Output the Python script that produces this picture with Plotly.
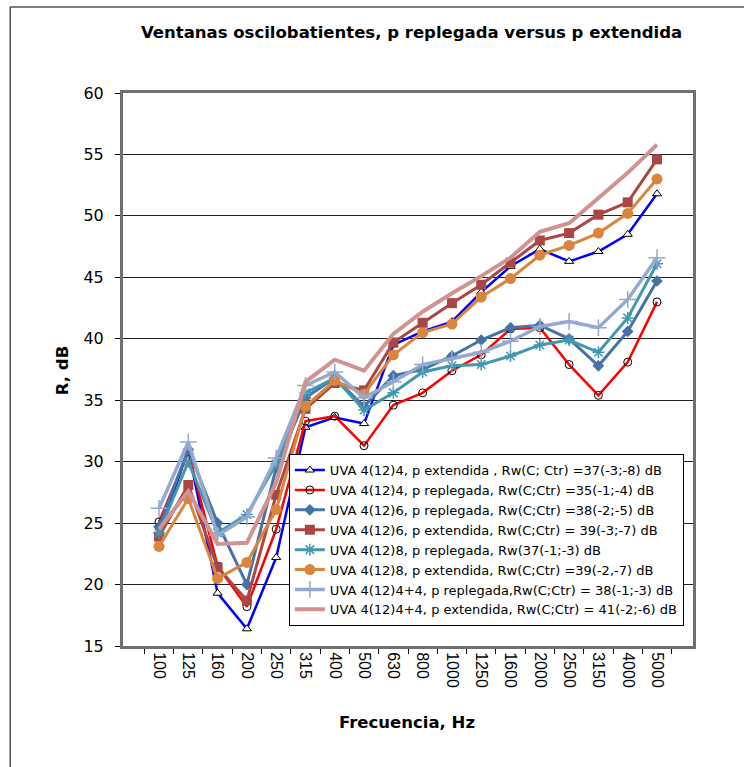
import plotly.graph_objects as go

freqs = ["100", "125", "160", "200", "250", "315", "400", "500", "630", "800",
         "1000", "1250", "1600", "2000", "2500", "3150", "4000", "5000"]

uva4_ext = [24.0, 31.0, 19.3, 16.4, 22.2, 32.8, 33.6, 33.1, 39.5, 40.6, 41.4, 43.8, 45.9, 47.3, 46.3, 47.1, 48.5, 51.8]
uva4_rep = [25.1, 30.8, 21.5, 18.2, 24.5, 33.3, 33.7, 31.3, 34.6, 35.6, 37.4, 38.7, 40.8, 40.9, 37.9, 35.4, 38.1, 43.0]
uva6_rep = [24.7, 31.0, 25.0, 20.0, 29.5, 35.2, 36.8, 34.5, 37.0, 37.5, 38.6, 39.9, 40.9, 41.1, 40.0, 37.8, 40.6, 44.7]
uva6_ext = [23.9, 28.1, 21.4, 18.7, 27.3, 34.3, 36.4, 35.8, 39.7, 41.3, 42.9, 44.4, 46.2, 48.0, 48.6, 50.1, 51.1, 54.6]
uva8_rep = [24.2, 30.0, 24.2, 25.7, 29.8, 35.6, 36.8, 34.2, 35.6, 37.3, 37.8, 37.9, 38.6, 39.5, 39.9, 38.9, 41.7, 46.1]
uva8_ext = [23.1, 27.0, 20.5, 21.8, 26.1, 34.5, 36.6, 35.5, 38.7, 40.5, 41.2, 43.4, 44.9, 46.8, 47.6, 48.6, 50.2, 53.0]
uva44_rep = [26.2, 31.6, 24.0, 25.5, 30.3, 36.2, 37.3, 35.2, 36.5, 37.9, 38.4, 38.9, 39.8, 41.0, 41.4, 40.9, 43.2, 46.6]
uva44_ext = [24.5, 27.6, 23.3, 23.4, 28.3, 36.5, 38.3, 37.4, 40.4, 42.2, 43.7, 45.1, 46.6, 48.7, 49.4, 51.4, 53.5, 55.8]

names = [
    "UVA 4(12)4, p extendida , Rw(C; Ctr) =37(-3;-8) dB",
    "UVA 4(12)4, p replegada, Rw(C;Ctr) =35(-1;-4) dB",
    "UVA 4(12)6, p replegada, Rw(C;Ctr) =38(-2;-5) dB",
    "UVA 4(12)6, p extendida, Rw(C;Ctr) = 39(-3;-7) dB",
    "UVA 4(12)8, p replegada, Rw(37(-1;-3) dB",
    "UVA 4(12)8, p extendida, Rw(C;Ctr) =39(-2,-7) dB",
    "UVA 4(12)4+4, p replegada,Rw(C;Ctr) = 38(-1;-3) dB",
    "UVA 4(12)4+4, p extendida, Rw(C;Ctr) = 41(-2;-6) dB",
]

series = [uva4_ext, uva4_rep, uva6_rep, uva6_ext, uva8_rep, uva8_ext, uva44_rep, uva44_ext]

styles = [
    dict(line=dict(color="#0000FF", width=2.5),
         marker=dict(symbol="triangle-up", color="white", size=8, line=dict(width=1, color="black"))),
    dict(line=dict(color="#FF0000", width=2.5),
         marker=dict(symbol="circle-open", color="black", size=8, line=dict(width=1))),
    dict(line=dict(color="#4572A7", width=3),
         marker=dict(symbol="diamond", color="#4572A7", size=9)),
    dict(line=dict(color="#AA4643", width=3),
         marker=dict(symbol="square", color="#AA4643", size=10)),
    dict(line=dict(color="#4198AF", width=3),
         marker=dict(symbol="asterisk-open", color="#4198AF", size=10, line=dict(width=1.5, color="#4198AF"))),
    dict(line=dict(color="#DB843D", width=3),
         marker=dict(symbol="circle", color="#DB843D", size=11)),
    dict(line=dict(color="#93A9CF", width=3.5),
         marker=dict(symbol="cross-thin-open", color="#93A9CF", size=12, line=dict(width=1.5, color="#93A9CF"))),
    dict(line=dict(color="#D19392", width=4), marker=dict(size=1, opacity=0)),
]

fig = go.Figure()
for name, vals, st in zip(names, series, styles):
    mode = "lines" if name.startswith("UVA 4(12)4+4, p extendida") else "lines+markers"
    fig.add_trace(go.Scatter(x=freqs, y=vals, name=name, mode=mode,
                             line=st["line"], marker=st["marker"]))

wide = "DejaVu Sans, Verdana, sans-serif"
narrow = "Liberation Sans, Arial, sans-serif"

fig.update_layout(
    width=744, height=767,
    margin=dict(l=123, r=51, t=93, b=121),
    paper_bgcolor="white", plot_bgcolor="white",
    font=dict(family=wide, color="black"),
    showlegend=True,
    legend=dict(x=0.291, y=0.036, xanchor="left", yanchor="bottom",
                bgcolor="white", bordercolor="black", borderwidth=1,
                font=dict(size=13, family=wide),
                itemwidth=30, tracegroupgap=0),
    xaxis=dict(type="category", tickson="boundaries", ticks="outside", ticklen=5,
               tickcolor="black", tickangle=90, tickfont=dict(size=16, family=narrow),
               showgrid=False, showline=True, linecolor="#6f6f6f", linewidth=3, mirror=True,
               zeroline=False),
    yaxis=dict(range=[15, 60], dtick=5, ticks="outside", ticklen=5, tickcolor="black",
               tickfont=dict(size=16, family=wide), showgrid=True, gridcolor="#222222", gridwidth=1,
               showline=True, linecolor="#6f6f6f", linewidth=3, mirror=True, zeroline=False,
               ticklabelstandoff=8),
    annotations=[
        dict(text="<b>Ventanas oscilobatientes, p replegada versus p extendida</b>",
             xref="paper", yref="paper", x=0.507, y=1.110, xanchor="center", yanchor="middle",
             showarrow=False, font=dict(size=16.5, family=wide)),
        dict(text="<b>R, dB</b>", xref="paper", yref="paper", x=-0.107, y=0.497,
             xanchor="center", yanchor="middle", textangle=-90, showarrow=False,
             font=dict(size=16.5, family=wide)),
        dict(text="<b>Frecuencia, Hz</b>", xref="paper", yref="paper", x=0.498, y=-0.139,
             xanchor="center", yanchor="middle", showarrow=False, font=dict(size=16.5, family=wide)),
    ],
    shapes=[
        dict(type="rect", xref="paper", yref="paper", x0=-0.198, x1=1.2, y0=-0.3, y1=1.1555,
             line=dict(color="black", width=1), layer="below"),
    ],
)

fig.write_html("out.html")
